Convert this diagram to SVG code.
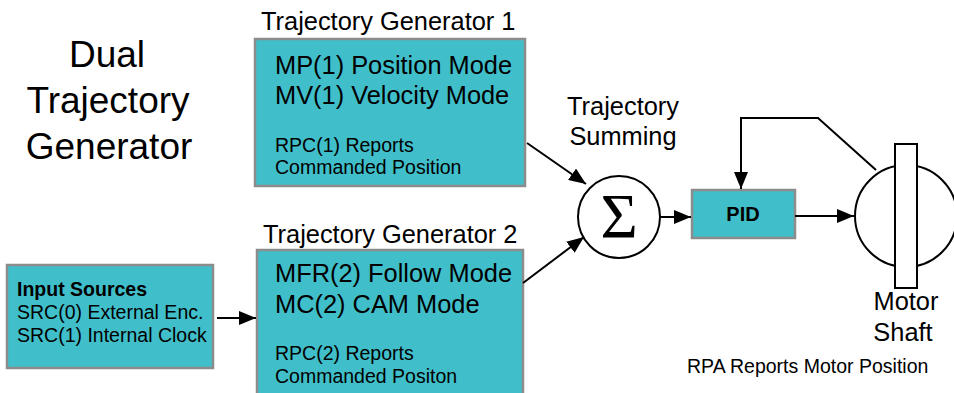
<svg xmlns="http://www.w3.org/2000/svg" width="954" height="393" viewBox="0 0 954 393">
<style>
text{font-family:"Liberation Sans",Arial,sans-serif;fill:#000}
.box{fill:#40BFCA;stroke:#8C8C8C;stroke-width:2.5}
.big{font-size:37px}
.mid{font-size:25.4px}
.sm{font-size:19.5px}
.b{font-weight:bold}
.ln{fill:none;stroke:#000;stroke-width:2}
.wh{fill:#fff;stroke:#000;stroke-width:2}
</style>
<defs>
<marker id="ah" markerUnits="userSpaceOnUse" markerWidth="18" markerHeight="14" refX="17" refY="7" orient="auto">
<path d="M0,0 L17,7 L0,14 z" fill="#000"/>
</marker>
</defs>
<g id="title">
<text class="big" x="107" y="67" text-anchor="middle">Dual</text>
<text class="big" x="108" y="113" text-anchor="middle">Trajectory</text>
<text class="big" x="109" y="159" text-anchor="middle">Generator</text>
</g>
<g id="tg1">
<text class="mid" x="261" y="30">Trajectory Generator 1</text>
<rect class="box" x="255" y="39" width="270" height="147"/>
<text class="mid" x="275" y="74">MP(1) Position Mode</text>
<text class="mid" x="275" y="104">MV(1) Velocity Mode</text>
<text class="sm" x="275" y="152">RPC(1) Reports</text>
<text class="sm" x="275" y="174">Commanded Position</text>
</g>
<g id="tg2">
<text class="mid" x="263" y="243">Trajectory Generator 2</text>
<rect class="box" x="257" y="250" width="266" height="160"/>
<text class="mid" x="275" y="282">MFR(2) Follow Mode</text>
<text class="mid" x="275" y="313">MC(2) CAM Mode</text>
<text class="sm" x="275" y="360">RPC(2) Reports</text>
<text class="sm" x="275" y="383">Commanded Positon</text>
</g>
<g id="inputs">
<rect class="box" x="7" y="265" width="206" height="103"/>
<text class="sm b" x="17" y="296">Input Sources</text>
<text class="sm" x="17" y="319">SRC(0) External Enc.</text>
<text class="sm" x="17" y="342">SRC(1) Internal Clock</text>
</g>
<g id="summing">
<text class="mid" x="623" y="115" text-anchor="middle">Trajectory</text>
<text class="mid" x="623" y="145" text-anchor="middle">Summing</text>
<circle class="wh" cx="619" cy="217" r="41"/>
<text x="619" y="238" text-anchor="middle" style="font-family:'Liberation Serif','Times New Roman',serif;font-size:64px">Σ</text>
</g>
<g id="pid">
<rect class="box" x="692" y="190" width="103" height="48"/>
<text class="sm b" x="743" y="221" text-anchor="middle" style="font-size:20px">PID</text>
</g>
<g id="motor">
<circle class="wh" cx="906" cy="216" r="51"/>
<rect class="wh" x="895" y="144" width="22" height="144"/>
<text class="mid" x="906" y="310" text-anchor="middle">Motor</text>
<text class="mid" x="903" y="341" text-anchor="middle">Shaft</text>
<text class="sm" x="687" y="373">RPA Reports Motor Position</text>
</g>
<g id="connectors">
<line class="ln" x1="217" y1="318" x2="256" y2="318" marker-end="url(#ah)"/>
<line class="ln" x1="527" y1="143" x2="586" y2="184" marker-end="url(#ah)"/>
<line class="ln" x1="523" y1="283" x2="584" y2="237" marker-end="url(#ah)"/>
<line class="ln" x1="660" y1="217" x2="691" y2="217" marker-end="url(#ah)"/>
<line class="ln" x1="795" y1="216" x2="854" y2="216" marker-end="url(#ah)"/>
<polyline class="ln" points="876,170 818,118 741,118 741,189" marker-end="url(#ah)"/>
</g>
</svg>
